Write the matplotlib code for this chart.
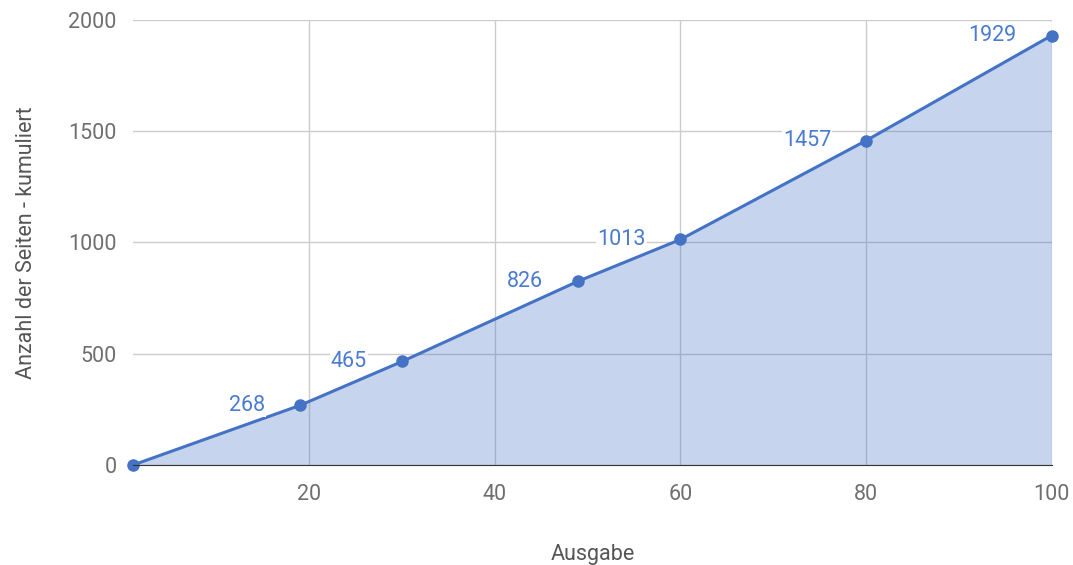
import matplotlib.pyplot as plt

plt.rcParams['font.family'] = ['Roboto', 'DejaVu Sans']

# Kumulierte Seitenzahl je Ausgabe
ausgabe = [1, 19, 30, 49, 60, 80, 100]
seiten = [0, 268, 465, 826, 1013, 1457, 1929]
beschriftet = [False, True, True, True, True, True, True]

x_ticks = [20, 40, 60, 80, 100]
y_ticks = [0, 500, 1000, 1500, 2000]

blau = '#4472c4'

fig = plt.figure(figsize=(10.73, 5.65), dpi=100)
ax = fig.add_axes([0.124, 0.177, 0.856, 0.788])

ax.fill_between(ausgabe, seiten, 0, color=blau, alpha=0.3, lw=0, zorder=1)
ax.plot(ausgabe, seiten, color=blau, lw=2.2, marker='o', markersize=8,
        zorder=3, clip_on=False)

for xv, yv, show in zip(ausgabe, seiten, beschriftet):
    if not show:
        continue
    ax.annotate(str(yv), (xv, yv), xytext=(-35, 0), textcoords='offset pixels',
                ha='right', va='center', color='#4a7bd0', fontsize=15.5, zorder=4,
                bbox=dict(boxstyle='square,pad=0.05', fc='white', ec='none'))

ax.set_xlim(1, 100)
ax.set_ylim(0, 2000)
ax.set_xticks(x_ticks)
ax.set_yticks(y_ticks)
ax.grid(True, color='#cccccc', lw=1, zorder=0)
ax.set_axisbelow(True)

for side in ['top', 'right', 'left']:
    ax.spines[side].set_visible(False)
ax.spines['bottom'].set_color('#333333')
ax.spines['bottom'].set_zorder(5)

ax.tick_params(length=0, labelsize=15.5, colors='#6f6f6f', pad=14)
ax.tick_params(axis='y', pad=12)

ax.set_xlabel('Ausgabe', fontsize=15.5, color='#555555', labelpad=28)
ax.set_ylabel('Anzahl der Seiten - kumuliert', fontsize=15.5, color='#555555', labelpad=22)

fig.savefig('out.png', dpi=100)
